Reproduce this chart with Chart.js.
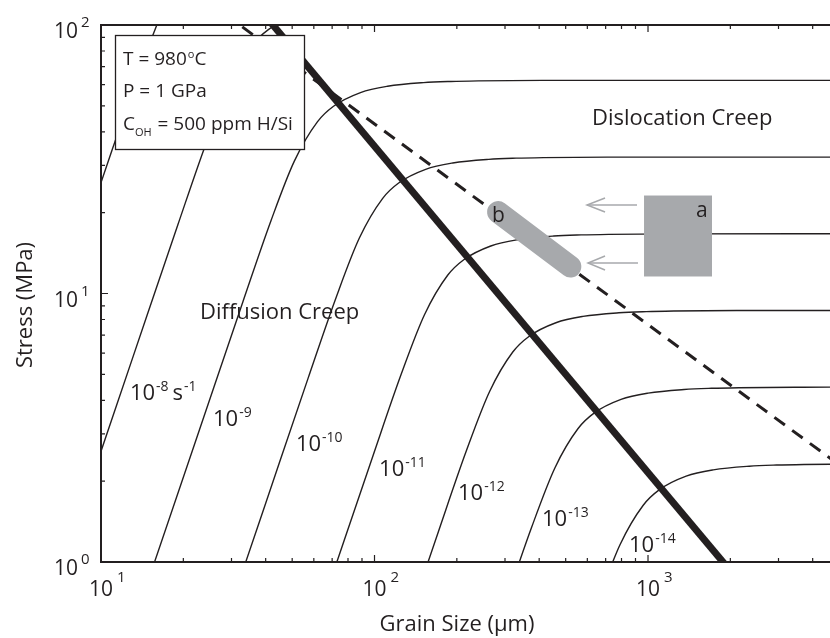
<!DOCTYPE html>
<html lang="en">
<head>
  <meta charset="UTF-8">
  <title>Deformation Mechanism Map</title>
  <script src="https://cdn.jsdelivr.net/npm/chart.js"></script>
  <style>
    body { margin: 0; background: #fff; }
    canvas { display: block; }
  </style>
</head>
<body>
  <canvas id="mapChart" width="830" height="638"></canvas>

  <script>
    // strain-rate contours: [grain size (um), stress (MPa)]
    const rate7  = [[7.65, 11.6], [11.04, 34.8], [13.97, 69.6], [16.0, 100], [17.0, 116]];
    const rate8  = [[7.29, 1.0], [13.24, 6.01], [19.10, 18.03], [24.18, 36.05], [29.42, 60.08], [35.72, 84.12], [40.92, 96.13], [51.36, 108.2]];
    const rate9  = [[12.46, 0.5], [22.91, 3.11], [33.05, 9.34], [41.83, 18.67], [50.92, 31.12], [61.82, 43.57], [70.81, 49.80], [88.88, 56.02], [111.6, 59.13], [151.1, 61.01], [190.2, 61.63], [239.7, 61.92], [409.9, 62.19], [5000, 62.2]];
    const rate10 = [[26.85, 0.5], [39.64, 1.61], [57.19, 4.84], [72.39, 9.67], [88.11, 16.12], [106.97, 22.57], [122.53, 25.79], [153.79, 29.01], [193.19, 30.62], [261.45, 31.60], [329.2, 31.92], [414.7, 32.07], [709.3, 32.21], [5000, 32.2]];
    const rate11 = [[68.59, 0.835], [98.95, 2.505], [125.26, 5.01], [152.45, 8.35], [185.09, 11.69], [212.01, 13.36], [266.11, 15.03], [334.28, 15.86], [452.39, 16.37], [569.5, 16.53], [717.6, 16.61], [1227.3, 16.68], [5000, 16.7]];
    const rate12 = [[118.7, 0.432], [171.2, 1.297], [216.7, 2.594], [263.8, 4.324], [320.3, 6.054], [366.9, 6.918], [460.5, 7.783], [578.4, 8.216], [782.8, 8.477], [985.5, 8.562], [1241.7, 8.603], [2123.7, 8.641], [5000, 8.64]];
    const rate13 = [[205.4, 0.224], [296.3, 0.672], [375.1, 1.344], [456.5, 2.240], [554.2, 3.135], [634.8, 3.583], [796.8, 4.031], [1000.9, 4.255], [1354.6, 4.390], [1705.4, 4.435], [2148.6, 4.456], [3675, 4.475], [5000, 4.48]];
    const rate14 = [[649.0, 0.696], [789.9, 1.16], [959.0, 1.624], [1098.5, 1.856], [1378.8, 2.088], [1732, 2.204], [2344, 2.274], [2951, 2.297], [3718, 2.308], [6359, 2.318]];
    const contours = [rate7, rate8, rate9, rate10, rate11, rate12, rate13, rate14];

    // field boundary (thick) and the dashed line
    const boundary = [[39.3, 110], [2050, 0.9]];
    const dashed = [[28.3, 110], [5000, 2.30]];

    // grey sample markers
    const sampleA = { dMin: 967, dMax: 1714, sMin: 11.62, sMax: 23.07 };
    const sampleB = [[283.0, 20.1], [520.0, 12.6]];
    const arrowUp = { tail: [911.5, 21.36], tip: [598.4, 21.36], arms: [[696.4, 22.69], [696.4, 20.12]] };
    const arrowLow = { tail: [919.0, 12.99], tip: [603.4, 12.99], arms: [[696.4, 13.79], [696.4, 12.23]] };

    // axes
    const xDecades = [10, 100, 1000];
    const xExps = ['1', '2', '3'];
    const yDecades = [1, 10, 100];
    const yExps = ['0', '1', '2'];

    // contour labels, anchored at text start / baseline
    const rateExps = ['-8', '-9', '-10', '-11', '-12', '-13', '-14'];
    const rateAnchors = [[12.76, 4.0], [25.67, 3.2], [51.6, 2.6], [103.9, 2.09], [202, 1.70], [409.7, 1.36], [852, 1.09]];

    const ink = '#231f20';
    const grey = '#a7a9ac';
    const face = '"Open Sans", "Noto Sans", sans-serif';

    const xy = pairs => pairs.map(([x, y]) => ({ x, y }));

    function line(data, opts) {
      return Object.assign({
        data: xy(data),
        showLine: true,
        borderColor: ink,
        borderWidth: 1.4,
        pointRadius: 0,
        clip: 0,
        tension: 0
      }, opts);
    }

    const datasets = [
      line([[sampleA.dMin, sampleA.sMax], [sampleA.dMax, sampleA.sMax]], { borderColor: grey, borderWidth: 1, fill: '+1', backgroundColor: grey, order: 0 }),
      line([[sampleA.dMin, sampleA.sMin], [sampleA.dMax, sampleA.sMin]], { borderColor: grey, borderWidth: 1, order: 0 }),
      line(sampleB, { borderColor: grey, borderWidth: 22, borderCapStyle: 'round', order: 0 }),
      line([arrowUp.tail, arrowUp.tip], { borderColor: grey, borderWidth: 1.5, order: 0 }),
      line([arrowUp.arms[0], arrowUp.tip, arrowUp.arms[1]], { borderColor: grey, borderWidth: 1.5, order: 0 }),
      line([arrowLow.tail, arrowLow.tip], { borderColor: grey, borderWidth: 1.5, order: 0 }),
      line([arrowLow.arms[0], arrowLow.tip, arrowLow.arms[1]], { borderColor: grey, borderWidth: 1.5, order: 0 }),
      line(boundary, { borderWidth: 7, order: 2 }),
      line(dashed, { borderWidth: 3, borderDash: [13, 9], order: 3 })
    ];
    contours.forEach(c => datasets.push(line(c, { cubicInterpolationMode: 'monotone', order: 4 })));

    function power(ctx, base, exp, x, y, big, small, rise) {
      ctx.font = big;
      ctx.fillText(base, x, y);
      const w = ctx.measureText(base).width;
      ctx.font = small;
      ctx.fillText(exp, x + w + 1, y - rise);
      return x + w + 1 + ctx.measureText(exp).width;
    }

    const decorations = {
      id: 'decorations',
      afterDatasetsDraw(chart) {
        const { ctx, chartArea: a, scales: { x, y } } = chart;
        ctx.save();
        ctx.fillStyle = ink;
        ctx.strokeStyle = ink;
        ctx.textAlign = 'left';
        ctx.textBaseline = 'alphabetic';

        // contour labels
        rateExps.forEach((e, i) => {
          const px = x.getPixelForValue(rateAnchors[i][0]);
          const py = y.getPixelForValue(rateAnchors[i][1]);
          const end = power(ctx, '10', e, px, py, `22px ${face}`, `14px ${face}`, 9);
          if (i === 0) {
            power(ctx, 's', '-1', end + 4, py, `22px ${face}`, `14px ${face}`, 9);
          }
        });

        // region names and sample letters
        ctx.font = `22px ${face}`;
        ctx.fillText('Diffusion Creep', x.getPixelForValue(23.0), y.getPixelForValue(8.04));
        ctx.fillText('Dislocation Creep', x.getPixelForValue(624), y.getPixelForValue(42.4));
        ctx.font = `21px ${face}`;
        ctx.fillText('a', x.getPixelForValue(1498), y.getPixelForValue(19.27));
        ctx.fillText('b', x.getPixelForValue(268.9), y.getPixelForValue(18.46));

        // conditions box
        const bx = a.left + 14, by = a.top + 10;
        ctx.fillStyle = '#fff';
        ctx.fillRect(bx, by, 189, 114);
        ctx.lineWidth = 1.3;
        ctx.strokeRect(bx + 0.5, by + 0.5, 189, 114);
        ctx.fillStyle = ink;
        const tx = bx + 8;
        const end = power(ctx, 'T = 980', 'o', tx, by + 30, `19px ${face}`, `11px ${face}`, 7);
        ctx.font = `19px ${face}`;
        ctx.fillText('C', end, by + 30);
        ctx.fillText('P = 1 GPa', tx, by + 62);
        ctx.fillText('C', tx, by + 95);
        const cw = ctx.measureText('C').width;
        ctx.font = `11px ${face}`;
        ctx.fillText('OH', tx + cw, by + 101);
        const ow = ctx.measureText('OH').width;
        ctx.font = `19px ${face}`;
        ctx.fillText(' = 500 ppm H/Si', tx + cw + ow + 1, by + 95);

        // frame
        ctx.lineWidth = 2;
        ctx.beginPath();
        ctx.moveTo(a.right + 2, a.top);
        ctx.lineTo(a.left, a.top);
        ctx.lineTo(a.left, a.bottom);
        ctx.lineTo(a.right + 2, a.bottom);
        ctx.stroke();

        // inward ticks
        ctx.lineWidth = 1.2;
        ctx.beginPath();
        xDecades.forEach(dec => {
          for (let m = 1; m < 10; m++) {
            const v = dec * m;
            if (v > x.max) break;
            const px = x.getPixelForValue(v);
            const len = m === 1 ? 7 : 4;
            ctx.moveTo(px, a.bottom); ctx.lineTo(px, a.bottom - len);
            ctx.moveTo(px, a.top); ctx.lineTo(px, a.top + len);
          }
        });
        yDecades.forEach(dec => {
          for (let m = 1; m < 10; m++) {
            const v = dec * m;
            if (v > y.max) break;
            const py = y.getPixelForValue(v);
            const len = m === 1 ? 7 : 4;
            ctx.moveTo(a.left, py); ctx.lineTo(a.left + len, py);
          }
        });
        ctx.stroke();

        // tick labels
        xDecades.forEach((v, i) => {
          const px = x.getPixelForValue(v);
          ctx.font = `21px ${face}`;
          const w = ctx.measureText('10').width;
          ctx.textAlign = 'center';
          ctx.fillText('10', px, a.bottom + 34);
          ctx.textAlign = 'left';
          ctx.font = `15px ${face}`;
          ctx.fillText(xExps[i], px + w / 2 + 4, a.bottom + 20);
        });
        yDecades.forEach((v, i) => {
          const py = y.getPixelForValue(v);
          ctx.font = `21px ${face}`;
          ctx.textAlign = 'right';
          ctx.fillText('10', a.left - 23, py + 13);
          ctx.textAlign = 'left';
          ctx.font = `15px ${face}`;
          ctx.fillText(yExps[i], a.left - 20, py + 2);
        });

        // axis titles
        ctx.font = `22px ${face}`;
        ctx.textAlign = 'center';
        ctx.fillText('Grain Size (\u03bcm)', 457, a.bottom + 69);
        ctx.translate(32, 305);
        ctx.rotate(-Math.PI / 2);
        ctx.fillText('Stress (MPa)', 0, 0);
        ctx.restore();
      }
    };

    new Chart(document.getElementById('mapChart'), {
      type: 'scatter',
      data: { datasets },
      options: {
        responsive: false,
        animation: false,
        devicePixelRatio: 1,
        layout: { padding: { left: 101, top: 25, right: 0, bottom: 76 } },
        plugins: { legend: { display: false }, tooltip: { enabled: false } },
        scales: {
          x: { type: 'logarithmic', min: 10, max: 4628, display: false },
          y: { type: 'logarithmic', min: 1, max: 100, display: false }
        }
      },
      plugins: [decorations]
    });
  </script>
</body>
</html>
